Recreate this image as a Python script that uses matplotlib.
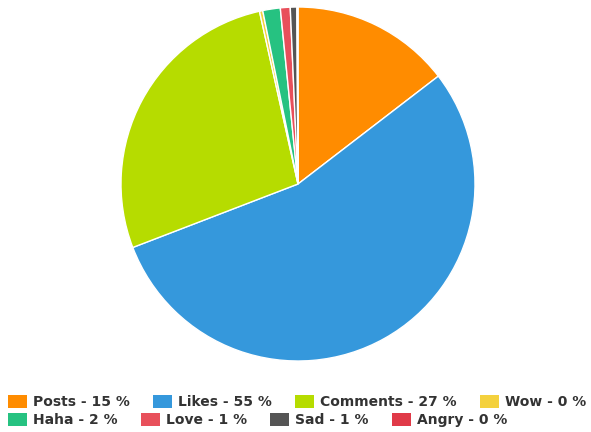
import matplotlib.pyplot as plt
from matplotlib.patches import Patch

# Reaction counts
labels = ["Posts", "Likes", "Comments", "Wow", "Haha", "Love", "Sad", "Angry"]
values = [146, 547, 274, 3, 16, 9, 6, 1]
colors = ["#ff8c00", "#3598dc", "#b6dc00", "#f4d13d", "#26c281",
          "#e8505b", "#555555", "#e03a48"]

total = sum(values)
legend_labels = [f"{l} - {round(v / total * 100)} %" for l, v in zip(labels, values)]

fig = plt.figure(figsize=(5.91, 4.32), dpi=100)
ax = fig.add_axes([121 / 591, 71 / 432, 354 / 591, 354 / 432])
ax.pie(values, colors=colors, startangle=90, counterclock=False,
       wedgeprops=dict(edgecolor="white", linewidth=1))
ax.set_xlim(-1, 1)
ax.set_ylim(-1, 1)
ax.set_aspect("equal")
ax.axis("off")

handles = [Patch(facecolor=c, edgecolor="none") for c in colors]
common = dict(frameon=False, ncol=4, handlelength=1.37, handleheight=1.1,
              handletextpad=0.43, columnspacing=1.68, borderaxespad=0, borderpad=0,
              prop=dict(weight="bold", size=10), labelcolor="#333333")
leg1 = fig.legend(handles[:4], legend_labels[:4], loc="center left",
                  bbox_to_anchor=(8 / 591, 1 - 402 / 432), **common)
leg2 = fig.legend(handles[4:], legend_labels[4:], loc="center left",
                  bbox_to_anchor=(8 / 591, 1 - 420 / 432), **common)

fig.savefig("out.png", dpi=100)
